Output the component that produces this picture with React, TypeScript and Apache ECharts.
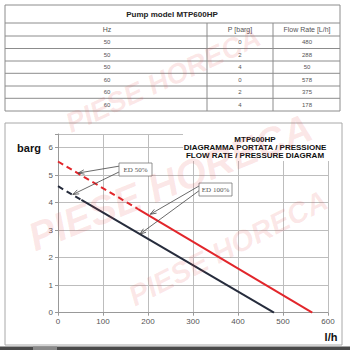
import React, { useEffect, useRef } from 'react';
import * as echarts from 'echarts';

// ---- Table data ----
const tableTitle = 'Pump model MTP600HP';
const tableHeaders = ['Hz', 'P [barg]', 'Flow Rate [L/h]'];
const tableHz = [50, 50, 50, 60, 60, 60];
const tablePressure = [0, 2, 4, 0, 2, 4];
const tableFlow = [480, 288, 50, 578, 375, 178];

// ---- Diagram data ----
const chartTitleLines = ['MTP600HP', 'DIAGRAMMA PORTATA / PRESSIONE', 'FLOW RATE / PRESSURE DIAGRAM'];
const red100Flow = [178, 565];
const red100P = [3.77, 0];
const red50Flow = [0, 178];
const red50P = [5.5, 3.77];
const black100Flow = [52, 480];
const black100P = [4.1, 0];
const black50Flow = [0, 52];
const black50P = [4.6, 4.1];

const ed50Label = 'ED 50%';
const ed50Targets = [[45, 5.08], [33, 4.3]];
const ed100Label = 'ED 100%';
const ed100Targets = [[205, 3.58], [182, 2.86]];

const watermark = 'PIESE HORECA';

const pairs = (xs: number[], ys: number[]) => xs.map((x, i) => [x, ys[i]]);

export default function App() {
  const ref = useRef<HTMLDivElement>(null);
  useEffect(() => {
    const chart = echarts.init(ref.current!, null, { renderer: 'svg' });
    const RED = '#e2262b';
    const DARK = '#262c3c';
    chart.setOption({
      animation: false,
      backgroundColor: '#fff',
      grid: { left: 58, right: 22, top: 134, bottom: 37.3 },
      xAxis: {
        type: 'value', min: 0, max: 600, interval: 100,
        axisLine: { show: true, lineStyle: { color: '#999' } },
        axisTick: { show: true, length: 3, lineStyle: { color: '#999' } },
        axisLabel: { fontSize: 8, color: '#555', margin: 5, fontFamily: 'Liberation Sans' },
        splitLine: { show: true, lineStyle: { color: '#bdbdbd' } },
      },
      yAxis: {
        type: 'value', min: 0, max: 6.5, interval: 1,
        axisLine: { show: true, lineStyle: { color: '#999' } },
        axisTick: { show: true, length: 3, lineStyle: { color: '#999' } },
        axisLabel: {
          fontSize: 8, color: '#555', margin: 5, fontFamily: 'Liberation Sans',
          formatter: (v: number) => (Number.isInteger(v) ? String(v) : ''),
        },
        splitLine: { show: true, lineStyle: { color: '#bdbdbd' } },
      },
      series: [
        { type: 'line', data: pairs(red50Flow, red50P), symbol: 'none', lineStyle: { color: RED, width: 2, type: [6, 4] }, z: 3 },
        { type: 'line', data: pairs(red100Flow, red100P), symbol: 'none', lineStyle: { color: RED, width: 2 }, z: 3 },
        { type: 'line', data: pairs(black50Flow, black50P), symbol: 'none', lineStyle: { color: DARK, width: 2, type: [6, 4] }, z: 3 },
        { type: 'line', data: pairs(black100Flow, black100P), symbol: 'none', lineStyle: { color: DARK, width: 2 }, z: 3 },
      ],
    });

    const g: any[] = [];
    // ---- table ----
    const colX = [5, 207, 273, 340];
    const rowY = [5, 23, 36, 48.5, 61, 73.3, 86, 98.3, 111];
    const tableStroke = { stroke: '#8c8c8c', lineWidth: 1, fill: 'none' };
    g.push({ type: 'rect', shape: { x: colX[0], y: rowY[0], width: colX[3] - colX[0], height: rowY[rowY.length - 1] - rowY[0] }, style: tableStroke, z: 10 });
    for (let i = 1; i < rowY.length - 1; i++) {
      g.push({ type: 'line', shape: { x1: colX[0], y1: rowY[i], x2: colX[3], y2: rowY[i] }, style: tableStroke, z: 10 });
    }
    [colX[1], colX[2]].forEach((x) =>
      g.push({ type: 'line', shape: { x1: x, y1: rowY[1], x2: x, y2: rowY[rowY.length - 1] }, style: tableStroke, z: 10 })
    );
    const colCenters = [107, 240, 307];
    g.push({ type: 'text', x: 172, y: (rowY[0] + rowY[1]) / 2, style: { text: tableTitle, fontSize: 8, fontWeight: 'bold', fill: '#222', fontFamily: 'Liberation Sans', align: 'center', verticalAlign: 'middle' }, z: 11 });
    tableHeaders.forEach((h, i) =>
      g.push({ type: 'text', x: colCenters[i], y: (rowY[1] + rowY[2]) / 2, style: { text: h, fontSize: 7, fill: '#555', fontFamily: 'Liberation Sans', align: 'center', verticalAlign: 'middle' }, z: 11 })
    );
    tableHz.forEach((hz, r) => {
      const yc = (rowY[r + 2] + rowY[r + 3]) / 2;
      [hz, tablePressure[r], tableFlow[r]].forEach((v, c) =>
        g.push({ type: 'text', x: colCenters[c], y: yc, style: { text: String(v), fontSize: 6, fill: '#555', fontFamily: 'Liberation Sans', align: 'center', verticalAlign: 'middle' }, z: 11 })
      );
    });

    // ---- chart frame ----
    g.push({ type: 'rect', shape: { x: 5, y: 123, width: 337, height: 222 }, style: { stroke: '#a8a8a8', lineWidth: 1, fill: 'none' }, z: 10 });
    g.push({ type: 'rect', shape: { x: 0, y: 346.5, width: 350, height: 3.5 }, style: { fill: '#4a4a4a' }, z: 10 });
    g.push({ type: 'rect', shape: { x: 33, y: 346.5, width: 24, height: 3.5 }, style: { fill: '#8a8a8a' }, z: 10 });

    // title box
    g.push({ type: 'rect', shape: { x: 183, y: 130, width: 150, height: 31 }, style: { fill: '#fff' }, z: 10 });
    chartTitleLines.forEach((t, i) =>
      g.push({ type: 'text', x: 255, y: 139 + i * 8.2, style: { text: t, fontSize: 8, fontWeight: 'bold', fill: '#111', fontFamily: 'Liberation Sans', align: 'center', verticalAlign: 'middle' }, z: 11 })
    );
    g.push({ type: 'text', x: 29, y: 148, style: { text: 'barg', fontSize: 11, fontWeight: 'bold', fill: '#111', fontFamily: 'Liberation Sans', align: 'center', verticalAlign: 'middle' }, z: 11 });
    g.push({ type: 'text', x: 331, y: 337, style: { text: 'l/h', fontSize: 11, fontWeight: 'bold', fill: '#111', fontFamily: 'Liberation Sans', align: 'center', verticalAlign: 'middle' }, z: 11 });

    // ---- annotations ----
    const arrow = (ox: number, oy: number, t: number[]) => {
      const [tx, ty] = chart.convertToPixel({ gridIndex: 0 }, t) as number[];
      const dx = tx - ox, dy = ty - oy;
      const len = Math.hypot(dx, dy);
      const ux = dx / len, uy = dy / len;
      const nx = -uy, ny = ux;
      const st = { stroke: '#444', lineWidth: 0.8, fill: 'none' };
      g.push({ type: 'line', shape: { x1: ox, y1: oy, x2: tx, y2: ty }, style: st, z: 12 });
      g.push({ type: 'polyline', shape: { points: [[tx - 6 * ux + 2.2 * nx, ty - 6 * uy + 2.2 * ny], [tx, ty], [tx - 6 * ux - 2.2 * nx, ty - 6 * uy - 2.2 * ny]] }, style: st, z: 12 });
    };
    const box = (x: number, y: number, w: number, h: number, text: string) => {
      g.push({ type: 'rect', shape: { x, y, width: w, height: h }, style: { fill: '#fff', stroke: '#777', lineWidth: 0.8 }, z: 12 });
      g.push({ type: 'text', x: x + w / 2, y: y + h / 2, style: { text, fontSize: 7, fill: '#555', fontFamily: 'Liberation Serif', align: 'center', verticalAlign: 'middle' }, z: 13 });
    };
    arrow(120, 166, ed50Targets[0]);
    arrow(121, 171, ed50Targets[1]);
    box(119, 163, 33, 13, ed50Label);
    arrow(199, 186, ed100Targets[0]);
    arrow(200, 190, ed100Targets[1]);
    box(199, 183, 33, 13, ed100Label);

    // ---- watermarks ----
    const wm = (x: number, y: number, size: number, rot: number) =>
      g.push({ type: 'text', x, y, rotation: (rot * Math.PI) / 180, silent: true, style: { text: watermark, fontSize: size, fontWeight: 'bold', fontStyle: 'italic', fill: 'rgba(225,70,70,0.13)', fontFamily: 'Liberation Sans', align: 'center', verticalAlign: 'middle' }, z: 20 });
    wm(163, 80, 28, 25);
    wm(170, 182, 40, 22);
    wm(228, 248, 29, 27);

    chart.setOption({ graphic: g });
    return () => chart.dispose();
  }, []);
  return <div ref={ref} style={{ position: 'fixed', left: 0, top: 0, width: 350, height: 350, background: '#fff' }} />;
}
